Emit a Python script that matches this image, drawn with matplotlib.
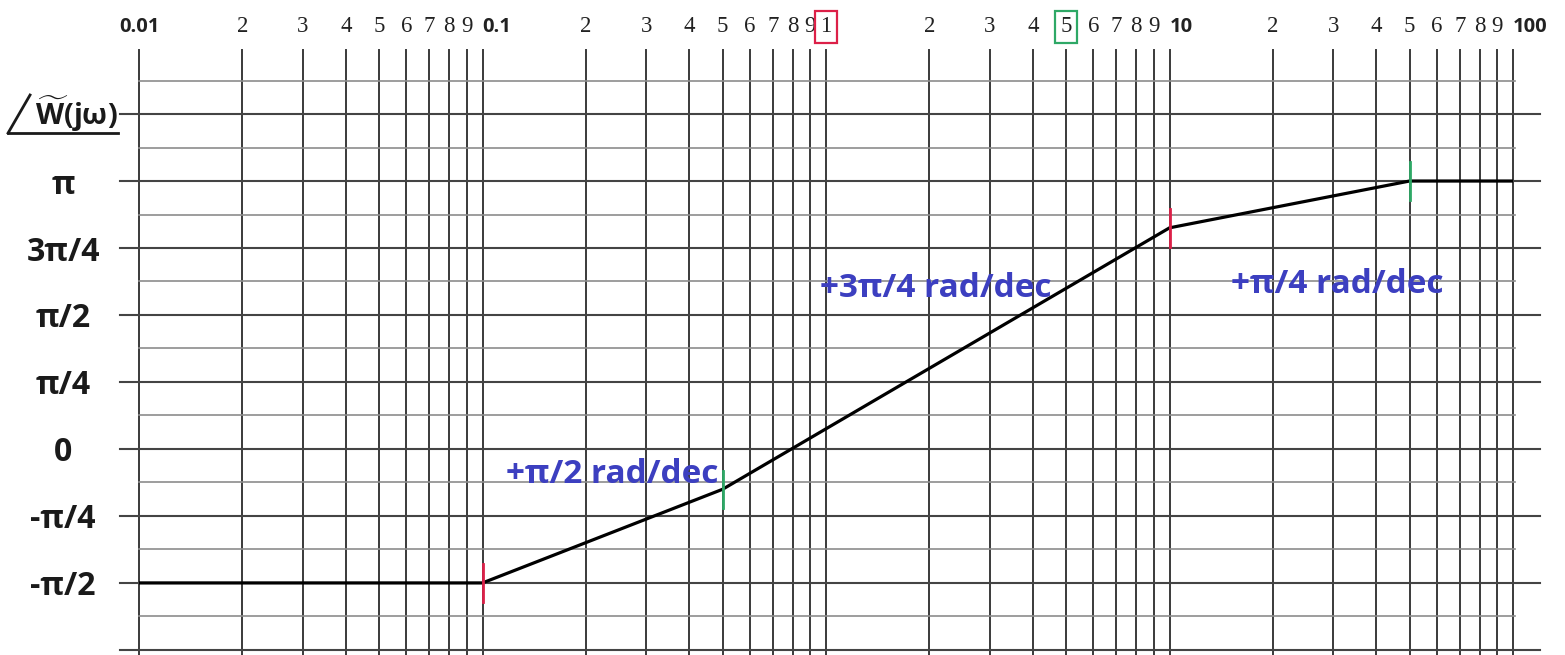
import numpy as np
import matplotlib.pyplot as plt
from matplotlib.ticker import NullLocator

PI = np.pi

# ── Asymptotic phase of W~(jw) ────────────────────────────────────────────────

breaks      = [0.01, 0.1, 0.5, 10, 50, 100]          # rad/s
slopes      = [0.0, PI / 2, 3 * PI / 4, PI / 4, 0.0]  # rad/dec on each segment
phase_start = -PI / 2

red_marks   = [0.1, 10]
green_marks = [0.5, 50]

slope_text   = ["+π/2 rad/dec", "+3π/4 rad/dec", "+π/4 rad/dec"]
slope_freqs  = [0.238, 2.08, 30.7]
slope_phases = [-0.097 * PI, 0.60 * PI, 0.612 * PI]

ytick_vals = [-PI / 2, -PI / 4, 0, PI / 4, PI / 2, 3 * PI / 4, PI]
ytick_text = ["-π/2", "-π/4", "0", "π/4", "π/2", "3π/4", "π"]

decades      = [0.01, 0.1, 1, 10, 100]
decade_text  = ["0.01", "0.1", "1", "10", "100"]
minor_digits = [2, 3, 4, 5, 6, 7, 8, 9]

phase = phase_start + np.concatenate(
    [[0.0], np.cumsum(np.array(slopes) * np.diff(np.log10(breaks)))])

# ── Styling ───────────────────────────────────────────────────────────────────

SANS   = ["Open Sans", "DejaVu Sans"]
SERIF  = ["Liberation Serif", "DejaVu Serif"]
GRID   = "#3a3a3a"
MINOR  = "#8c8c8c"
INK    = "#1a1a1a"
BLUE   = "#3c3fc0"
RED    = "#dc2048"
GREEN  = "#2ea866"

# bold sans for the accented W in mathtext
plt.rcParams["mathtext.fontset"] = "custom"
plt.rcParams["mathtext.rm"] = "Open Sans:bold"
plt.rcParams["mathtext.bf"] = "Open Sans:bold"

fig = plt.figure(figsize=(15.65, 6.55), dpi=100)
ax = fig.add_axes([139 / 1565, 0, 1374 / 1565, 605 / 655])
ax.set_xscale("log")
ax.set_xlim(0.01, 100)
ax.set_ylim(-0.769 * PI, 1.489 * PI)
for s in ax.spines.values():
    s.set_visible(False)

# log-paper grid
xticks, xlabels = [], []
for i, d in enumerate(decades):
    xticks.append(d)
    xlabels.append(decade_text[i])
    if d < 100:
        for m in minor_digits:
            xticks.append(m * d)
            xlabels.append(str(m))
for x in xticks:
    ax.axvline(x, color=GRID, lw=1.4, clip_on=False, zorder=1)

for k in range(-3, 6):
    ax.axhline(k * PI / 4, xmin=-0.0138, xmax=1.0197, color="#444444",
               lw=1.5, clip_on=False, zorder=1)
for k in range(-5, 12, 2):
    ax.axhline(k * PI / 8, xmin=0, xmax=1.0015, color=MINOR, lw=1.2,
               clip_on=False, zorder=1)

# top frequency labels
ax.xaxis.tick_top()
ax.set_xticks(xticks, xlabels)
ax.xaxis.set_minor_locator(NullLocator())
ax.tick_params(axis="x", length=0, pad=9)
for x, lab in zip(xticks, ax.get_xticklabels()):
    if x in decades and x != 1:
        lab.set_fontfamily(SANS)
        lab.set_fontweight("bold")
        lab.set_fontsize(14.5)
        if x > 0.01:
            lab.set_horizontalalignment("left")
    else:
        lab.set_fontfamily(SERIF)
        lab.set_fontsize(16.5)
    lab.set_color("#222222")
    if x == 1:
        lab.set_bbox(dict(boxstyle="square,pad=0.22", fc="none", ec=RED, lw=1.6))
    if x == 5:
        lab.set_bbox(dict(boxstyle="square,pad=0.22", fc="none", ec=GREEN, lw=1.6))

# phase labels on the left
ax.set_yticks(ytick_vals, ytick_text)
ax.yaxis.set_minor_locator(NullLocator())
ax.tick_params(axis="y", length=0, pad=54.7)
for lab in ax.get_yticklabels():
    lab.set_horizontalalignment("center")
    lab.set_fontfamily(SANS)
    lab.set_fontweight("bold")
    lab.set_fontsize(23)
    lab.set_color(INK)

# angle-of-W~ label
trans = ax.get_yaxis_transform()
ax.text(-0.0757, 5 * PI / 4, r"$\widetilde{\mathrm{W}}$(jω)", transform=trans,
        ha="left", va="center", fontsize=21, fontweight="bold", family=SANS,
        color=INK)
ax.plot([-0.0953, -0.0153], [1.179 * PI, 1.179 * PI], transform=trans,
        color=INK, lw=2, clip_on=False)
ax.plot([-0.0953, -0.0793], [1.179 * PI, 1.321 * PI], transform=trans,
        color=INK, lw=2, clip_on=False)

# the phase curve
ax.plot(breaks, phase, color="black", lw=2.3, zorder=5)

for marks, col in [(red_marks, RED), (green_marks, GREEN)]:
    for f in marks:
        p = np.interp(np.log10(f), np.log10(breaks), phase)
        ax.plot([f, f], [p - 0.07 * PI, p + 0.07 * PI], color=col, lw=2, zorder=6)

for txt, f, p in zip(slope_text, slope_freqs, slope_phases):
    ax.text(f, p, txt, color=BLUE, fontsize=24, fontweight="bold", family=SANS,
            ha="center", va="center", zorder=7)

fig.savefig("out.png", dpi=100)
